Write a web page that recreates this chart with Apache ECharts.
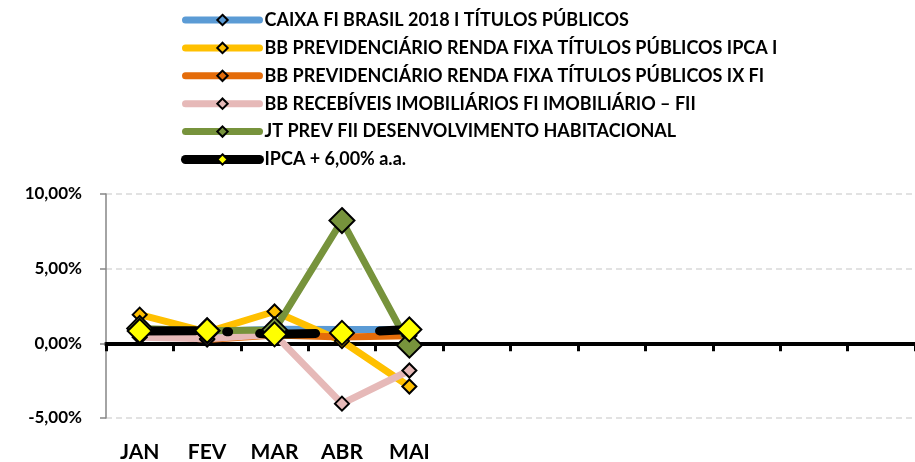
<!DOCTYPE html>
<html>
<head>
<meta charset="utf-8">
<script src="https://cdn.jsdelivr.net/npm/echarts@6/dist/echarts.min.js"></script>
<style>
html,body{margin:0;padding:0;background:#fff;}
#chart{width:915px;height:462px;}
</style>
</head>
<body>
<div id="chart"></div>
<script>
// ---- data ----
const categories = ['JAN','FEV','MAR','ABR','MAI','','','','','','',''];
const seriesNames = [
  'CAIXA FI BRASIL 2018 I TÍTULOS PÚBLICOS',
  'BB PREVIDENCIÁRIO RENDA FIXA TÍTULOS PÚBLICOS IPCA I',
  'BB PREVIDENCIÁRIO RENDA FIXA TÍTULOS PÚBLICOS IX FI',
  'BB RECEBÍVEIS IMOBILIÁRIOS FI IMOBILIÁRIO – FII',
  'JT PREV FII DESENVOLVIMENTO HABITACIONAL',
  'IPCA + 6,00% a.a.'
];
const caixa = [0.88, 0.80, 0.95, 0.92, 0.92];
const bbIpcaI = [1.92, 0.75, 2.13, 0.15, -2.89];
const bbIxFi = [0.70, 0.25, 0.55, 0.42, 0.50];
const bbRecebiveis = [0.40, 0.30, 0.60, -4.04, -1.82];
const jtPrev = [1.00, 0.85, 0.90, 8.22, -0.12];
const ipca = [0.83, 0.85, 0.60, 0.70, 0.93];
const yTicks = [-5, 0, 5, 10];

const FONT = 'Lato';
const colors = ['#5B9BD5', '#FFC000', '#E46C0A', '#E6B9B8', '#77933C', '#000000'];
const values = [caixa, bbIpcaI, bbIxFi, bbRecebiveis, jtPrev, ipca];
const symSizes = [14, 14, 14, 14, 25, 24];

const series = values.map((vals, i) => {
  const isIpca = i === 5;
  return {
    name: seriesNames[i],
    type: 'line',
    xAxisIndex: 0,
    data: vals,
    symbol: 'diamond',
    symbolSize: symSizes[i],
    showAllSymbol: true,
    lineStyle: {
      color: colors[i],
      width: isIpca ? 9 : 7,
      cap: 'round',
      join: 'round',
      type: isIpca ? [56, 31, 2, 31] : 'solid'
    },
    itemStyle: {
      color: isIpca ? '#FFFF00' : colors[i],
      borderColor: '#000',
      borderWidth: 2
    },
    emphasis: { disabled: true }
  };
});

const chart = echarts.init(document.getElementById('chart'), null, { renderer: 'canvas' });
chart.setOption({
  animation: false,
  color: colors,
  grid: { left: 106, right: 0, top: 194, bottom: 44, containLabel: false, outerBoundsMode: 'none' },
  legend: {
    orient: 'vertical',
    left: 181,
    top: 11,
    padding: 0,
    itemWidth: 74,
    itemHeight: 13,
    itemGap: 9.9,
    selectedMode: false,
    textStyle: { fontFamily: FONT, fontWeight: 'bold', fontSize: 18, color: '#000', lineHeight: 16 },
    lineStyle: { width: 7, cap: 'round' },
    data: seriesNames.map((n, i) => i === 5
      ? { name: n, lineStyle: { width: 9, type: 'solid', cap: 'round' } }
      : { name: n })
  },
  xAxis: [{
    type: 'category',
    data: categories,
    boundaryGap: true,
    axisLine: { onZero: true, lineStyle: { color: '#000', width: 4 } },
    axisTick: { show: true, interval: 0, length: 8, inside: false, lineStyle: { color: '#000', width: 3 } },
    axisLabel: { show: false },
    splitLine: { show: false }
  }, {
    type: 'category',
    data: categories,
    position: 'bottom',
    offset: 0,
    boundaryGap: true,
    axisLine: { show: false, onZero: false },
    axisTick: { show: false },
    axisLabel: { interval: 0, margin: 24, fontFamily: FONT, fontWeight: 'bold', fontSize: 21, color: '#000' },
    splitLine: { show: false }
  }],
  yAxis: {
    type: 'value',
    min: yTicks[0],
    max: yTicks[yTicks.length - 1],
    interval: yTicks[1] - yTicks[0],
    axisLine: { show: true, lineStyle: { color: '#868686', width: 1.5 } },
    axisTick: { show: true, inside: false, length: 6, lineStyle: { color: '#868686', width: 1.5 } },
    axisLabel: {
      margin: 24,
      fontFamily: FONT, fontWeight: 'bold', fontSize: 17, color: '#000',
      formatter: v => v.toFixed(2).replace('.', ',') + '%'
    },
    splitLine: { show: true, lineStyle: { color: '#D9D9D9', width: 1.5, type: [6, 4] } }
  },
  series: series
});
</script>
</body>
</html>
